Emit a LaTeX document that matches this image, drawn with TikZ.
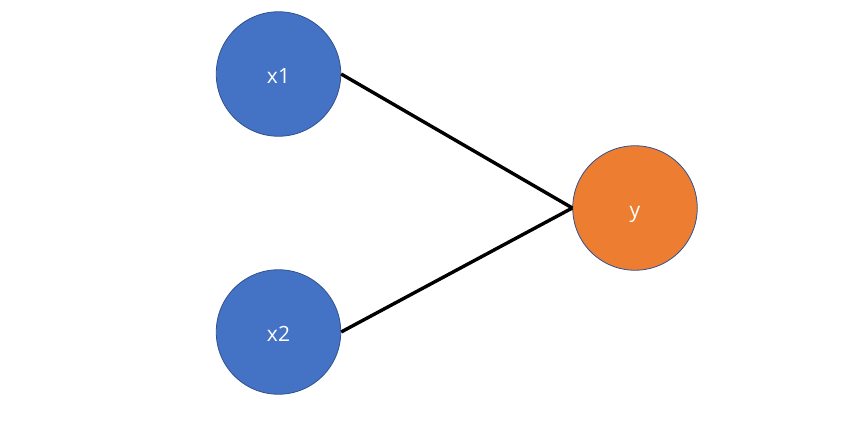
\documentclass[tikz,border=0pt]{standalone}
\usepackage{fontspec}
\setmainfont{Open Sans}
\definecolor{nodeblue}{HTML}{4472C4}
\definecolor{nodeorange}{HTML}{ED7D31}
\definecolor{rimblue}{HTML}{2F528F}
\begin{document}
\begin{tikzpicture}[x=1pt,y=-1pt,
  neuron/.style={circle, draw=rimblue, line width=0.8pt, minimum size=124.5pt, inner sep=0pt, text=white, font=\fontsize{21}{25}\selectfont, text height=22pt, text depth=3.4pt},
  link/.style={line width=3.4pt, black}]
\useasboundingbox (0,0) rectangle (868,425);
\node[neuron, fill=nodeblue] (x1) at (278.5,74) {x1};
\node[neuron, fill=nodeblue] (x2) at (278.5,332) {x2};
\node[neuron, fill=nodeorange] (y) at (635,208) {y};
\draw[link] (x1.east) -- (y.west);
\draw[link] (x2.east) -- (y.west);
\end{tikzpicture}
\end{document}
